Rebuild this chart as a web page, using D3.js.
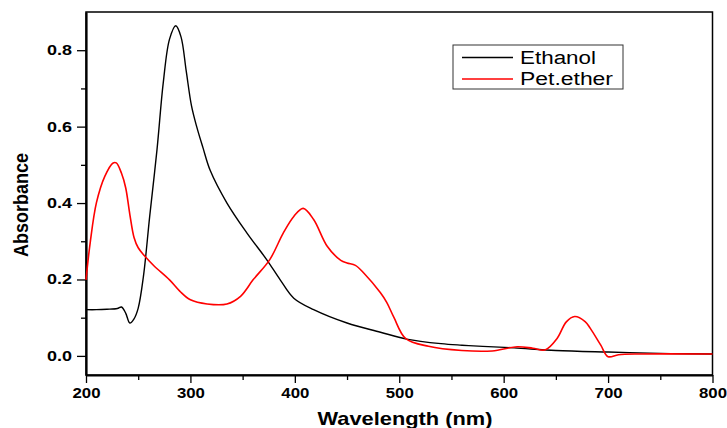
<!DOCTYPE html>
<html>
<head>
<meta charset="utf-8">
<script src="https://cdn.jsdelivr.net/npm/d3@7"></script>
<style>
  body { margin: 0; background: #fff; }
  svg { display: block; font-family: "Liberation Sans", Arial, sans-serif; }
</style>
</head>
<body>
<svg id="chart" width="727" height="428"></svg>
<script>
// Ethanol spectrum (black)
var ethWl  = [200,210,220,230,234,238,242,246,250,255,261,268,274,280,286,291,296,301,306,312,319,335,354,373,386,399,418,450,482,507,540,560,580,610,650,700,730,760,800];
var ethAbs = [0.121,0.121,0.122,0.124,0.128,0.112,0.086,0.097,0.125,0.208,0.365,0.54,0.715,0.829,0.864,0.835,0.745,0.655,0.6,0.545,0.485,0.40,0.322,0.252,0.199,0.151,0.121,0.086,0.062,0.044,0.032,0.028,0.025,0.021,0.014,0.010,0.008,0.006,0.005];

// Pet.ether spectrum (red)
var petWl  = [200,204,210,218,226,229,234,238,242,246,250,256,265,280,290,300,316,335,348,360,376,389,399,408,418,431,444,450,458,466,482,488,495,506,528,560,589,613,628,640,651,660,668,678,683,693,700,710,730,800];
var petAbs = [0.199,0.296,0.401,0.47,0.505,0.505,0.478,0.44,0.37,0.31,0.283,0.262,0.236,0.199,0.169,0.147,0.136,0.136,0.156,0.199,0.252,0.322,0.365,0.386,0.357,0.287,0.25,0.243,0.237,0.217,0.165,0.14,0.10,0.046,0.025,0.014,0.013,0.024,0.020,0.016,0.045,0.089,0.103,0.09,0.072,0.028,-0.002,0.003,0.005,0.005];

var seriesNames = ["Ethanol", "Pet.ether"];
var seriesColors = ["#000000", "#ff0000"];

var xMajor = [200,300,400,500,600,700,800];
var xMinor = [250,350,450,550,650,750];
var yMajor = [0.0,0.2,0.4,0.6,0.8];
var yMinor = [0.1,0.3,0.5,0.7];

// plot box (note: "top" is taken by window.top)
var plotL = 86, plotR = 712.5, plotT = 12, plotB = 375;

var svg = d3.select("#chart");

var x = d3.scaleLinear().domain([200, 800]).range([plotL, plotR]);
var y = d3.scaleLinear().domain([-0.05, 0.9]).range([plotB, plotT]);

// frame (top / right)
svg.append("rect")
  .attr("x", plotL).attr("y", plotT)
  .attr("width", plotR - plotL).attr("height", plotB - plotT)
  .attr("fill", "none").attr("stroke", "#000").attr("stroke-width", 1.5);

// minor ticks
svg.append("g").attr("transform", "translate(0," + plotB + ")")
  .call(d3.axisBottom(x).tickValues(xMinor).tickSize(5).tickFormat(""))
  .call(function(g) { g.select(".domain").remove(); });
svg.append("g").attr("transform", "translate(" + plotL + ",0)")
  .call(d3.axisLeft(y).tickValues(yMinor).tickSize(5).tickFormat(""))
  .call(function(g) { g.select(".domain").remove(); });

// major axes
var xAxis = svg.append("g").attr("transform", "translate(0," + plotB + ")")
  .call(d3.axisBottom(x).tickValues(xMajor).tickSize(8).tickSizeOuter(0).tickPadding(5).tickFormat(d3.format("d")));
var yAxis = svg.append("g").attr("transform", "translate(" + plotL + ",0)")
  .call(d3.axisLeft(y).tickValues(yMajor).tickSize(9).tickSizeOuter(0).tickPadding(5).tickFormat(d3.format(".1f")));

svg.selectAll(".domain").attr("stroke-width", 2.2);
svg.selectAll(".tick line").attr("stroke-width", 1.3);

xAxis.selectAll("text")
  .attr("font-family", "'Liberation Sans', Arial, sans-serif")
  .attr("font-size", 14).attr("font-weight", "bold")
  .attr("textLength", 28).attr("lengthAdjust", "spacingAndGlyphs");
yAxis.selectAll("text")
  .attr("font-family", "'Liberation Sans', Arial, sans-serif")
  .attr("font-size", 14).attr("font-weight", "bold")
  .attr("textLength", 25).attr("lengthAdjust", "spacingAndGlyphs");

// curves
var line = d3.line()
  .x(function(d) { return x(d[0]); })
  .y(function(d) { return y(d[1]); })
  .curve(d3.curveCatmullRom.alpha(0.5));

var ethData = d3.zip(ethWl, ethAbs);
var petData = d3.zip(petWl, petAbs);

svg.append("path").datum(ethData)
  .attr("d", line).attr("fill", "none")
  .attr("stroke", seriesColors[0]).attr("stroke-width", 1.4);
svg.append("path").datum(petData)
  .attr("d", line).attr("fill", "none")
  .attr("stroke", seriesColors[1]).attr("stroke-width", 1.6);

// axis titles
svg.append("text")
  .attr("x", 405).attr("y", 425)
  .attr("text-anchor", "middle")
  .attr("font-size", 19).attr("font-weight", "bold")
  .attr("textLength", 175).attr("lengthAdjust", "spacingAndGlyphs")
  .text("Wavelength (nm)");

svg.append("text")
  .attr("transform", "translate(28,205) rotate(-90)")
  .attr("text-anchor", "middle")
  .attr("font-size", 20).attr("font-weight", "bold")
  .attr("textLength", 104).attr("lengthAdjust", "spacingAndGlyphs")
  .text("Absorbance");

// legend
var legend = svg.append("g");
legend.append("rect")
  .attr("x", 453).attr("y", 45).attr("width", 170).attr("height", 44)
  .attr("fill", "#fff").attr("stroke", "#333").attr("stroke-width", 1);

var lengths = [76, 93];
seriesNames.forEach(function(name, i) {
  var cy = 57.5 + i * 21.5;
  legend.append("line")
    .attr("x1", 462).attr("x2", 513).attr("y1", cy).attr("y2", cy)
    .attr("stroke", seriesColors[i]).attr("stroke-width", 1.5);
  legend.append("text")
    .attr("x", 520).attr("y", cy + 6)
    .attr("font-size", 18)
    .attr("textLength", lengths[i]).attr("lengthAdjust", "spacingAndGlyphs")
    .text(name);
});
</script>
</body>
</html>
